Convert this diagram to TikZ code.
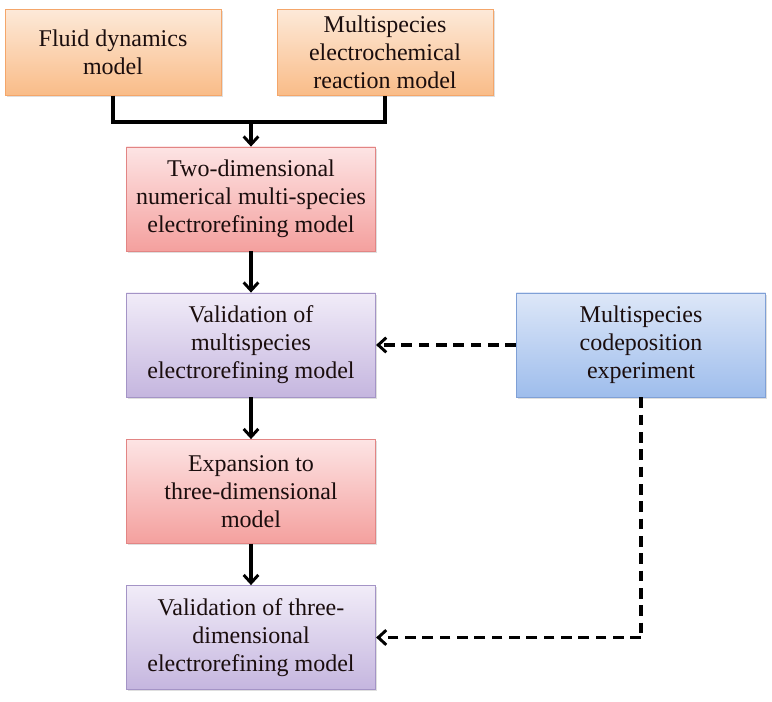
\documentclass[tikz,border=0pt]{standalone}
\usepackage{fontspec}
\setmainfont{Liberation Serif}
\usetikzlibrary{arrows.meta,shadows}
\definecolor{orT}{HTML}{FDE9D8}
\definecolor{orB}{HTML}{F9BC88}
\definecolor{orD}{HTML}{F4A66A}
\definecolor{rdT}{HTML}{FDE4E4}
\definecolor{rdB}{HTML}{F4A09E}
\definecolor{rdD}{HTML}{E28584}
\definecolor{puT}{HTML}{F1ECF8}
\definecolor{puB}{HTML}{C5B6DF}
\definecolor{puD}{HTML}{A494C6}
\definecolor{blT}{HTML}{DDE7F8}
\definecolor{blB}{HTML}{9EBDEC}
\definecolor{blD}{HTML}{7FA0D6}
\definecolor{txt}{HTML}{1A0D0D}
\tikzset{
  boxbase/.style={rectangle, draw, line width=0.6pt, align=center, text=txt,
    font=\rmfamily\fontsize{18}{21}\selectfont,
    drop shadow={opacity=0.25, shadow xshift=1.2pt, shadow yshift=-1.2pt}},
  orbox/.style={boxbase, draw=orD, top color=orT, bottom color=orB,
    minimum width=162pt, minimum height=64pt},
  rdbox/.style={boxbase, draw=rdD, top color=rdT, bottom color=rdB,
    minimum width=187pt, minimum height=78pt},
  pubox/.style={boxbase, draw=puD, top color=puT, bottom color=puB,
    minimum width=187pt, minimum height=78pt},
  blbox/.style={boxbase, draw=blD, top color=blT, bottom color=blB,
    minimum width=187pt, minimum height=78pt},
  conn/.style={line width=2.8pt, black},
  arr/.style={conn, -{Straight Barb[length=6pt,width=11pt,line width=2.2pt]}},
  darr/.style={arr, dash pattern=on 8pt off 5pt},
  dline/.style={conn, dash pattern=on 8pt off 5pt}
}
\begin{document}
\begin{tikzpicture}[x=0.75pt,y=-0.75pt]
\useasboundingbox (0,0) rectangle (772,702);
\node[orbox] (fluid) at (113,52.5) {Fluid dynamics\\model};
\node[orbox] (chem) at (385,52.5) {Multispecies\\electrochemical\\reaction model};
\node[rdbox] (two) at (251,199) {Two-dimensional\\numerical multi-species\\electrorefining model};
\node[pubox] (val1) at (251,345) {Validation of\\multispecies\\electrorefining model};
\node[blbox] (exp) at (641,345) {Multispecies\\codeposition\\experiment};
\node[rdbox] (three) at (251,491.5) {Expansion to\\three-dimensional\\model};
\node[pubox] (val2) at (251,637.5) {Validation of three-\\dimensional\\electrorefining model};
\coordinate (j) at (251,122);
\coordinate (c1) at (641,637.5);
\draw[conn] (fluid.south) |- (j) -| (chem.south);
\draw[arr] (j) -- (two.north);
\draw[arr] (two.south) -- (val1.north);
\draw[arr] (val1.south) -- (three.north);
\draw[arr] (three.south) -- (val2.north);
\draw[darr] (exp.west) -- (val1.east);
\draw[dline] (exp.south) -- (c1);
\draw[darr] (c1) -- (val2.east);
\end{tikzpicture}
\end{document}
